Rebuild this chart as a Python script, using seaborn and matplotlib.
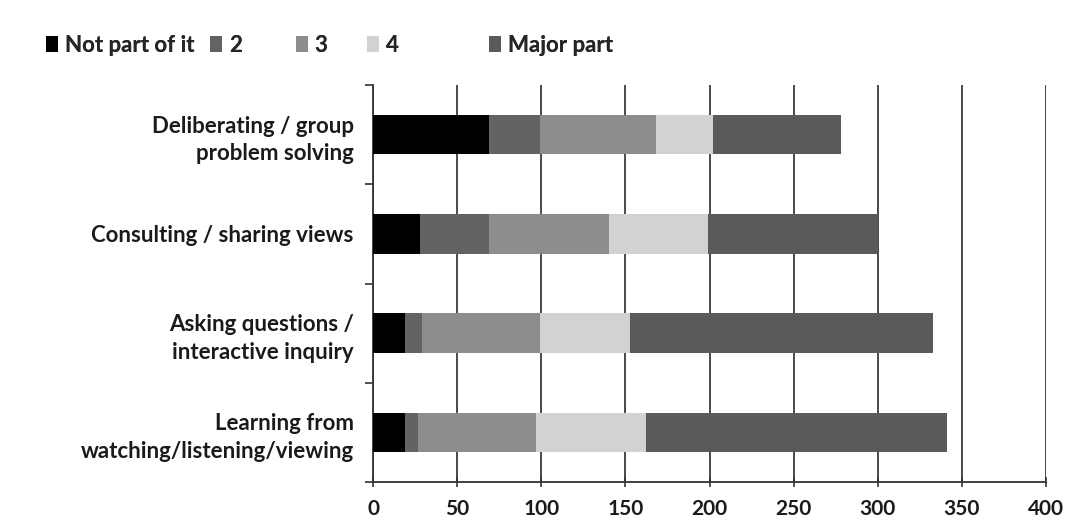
import matplotlib
matplotlib.use("Agg")
import matplotlib.pyplot as plt
import seaborn as sns
import pandas as pd
import numpy as np
from matplotlib.patches import Patch

# Survey responses: how much each activity is part of the work
activities = [
    "Deliberating / group\nproblem solving",
    "Consulting / sharing views",
    "Asking questions /\ninteractive inquiry",
    "Learning from\nwatching/listening/viewing",
]
levels = ["Not part of it", "2", "3", "4", "Major part"]
not_part = [69, 28, 19, 19]
level_2 = [30, 41, 10, 8]
level_3 = [69, 71, 70, 70]
level_4 = [34, 59, 54, 65]
major_part = [76, 101, 180, 179]
x_ticks = [0, 50, 100, 150, 200, 250, 300, 350, 400]

colors = ["#000000", "#636363", "#8d8d8d", "#d2d2d2", "#5a5a5a"]

sns.set_theme(style="white")
plt.rcParams["font.family"] = ["Lato", "DejaVu Sans"]
plt.rcParams["font.weight"] = "bold"

df = pd.DataFrame(
    {
        "activity": activities,
        levels[0]: not_part,
        levels[1]: level_2,
        levels[2]: level_3,
        levels[3]: level_4,
        levels[4]: major_part,
    }
)
cum = df[levels].cumsum(axis=1)
cum["activity"] = df["activity"]

fig = plt.figure(figsize=(10.67, 5.29), dpi=100)
ax = fig.add_axes([0.3496, 0.0888, 0.6307, 0.7505])

# Stacked bars: draw cumulative totals from the outermost segment inward
for lvl, col in reversed(list(zip(levels, colors))):
    sns.barplot(
        data=cum, x=lvl, y="activity", color=col, width=0.4,
        orient="h", ax=ax, saturation=1, edgecolor="none", zorder=3,
    )

ax.set_xlim(0, 400)
ax.set_xticks(x_ticks)
ax.set_xticklabels([str(t) for t in x_ticks])
ax.set_ylim(3.5, -0.5)
ax.set_xlabel("")
ax.set_ylabel("")

ax.xaxis.grid(True, color="#3a3a3a", linewidth=1.3, zorder=0)
ax.yaxis.grid(False)
ax.set_axisbelow(True)

for side in ["top", "right"]:
    ax.spines[side].set_visible(False)
for side in ["left", "bottom"]:
    ax.spines[side].set_color("#333333")
    ax.spines[side].set_linewidth(1.3)

# Category separators as minor ticks on the y-axis
ax.set_yticks(np.arange(-0.5, 4.0, 1.0), minor=True)
ax.tick_params(axis="y", which="major", length=0, pad=14, labelsize=16,
               labelcolor="#1a1a1a")
ax.tick_params(axis="y", which="minor", length=6, width=1.2, color="#333333",
               direction="out", left=True)
ax.tick_params(axis="x", which="major", length=7, width=1.2, color="#333333",
               direction="inout", bottom=True, pad=9, labelsize=15,
               labelcolor="#1a1a1a")
for lab in ax.get_yticklabels():
    lab.set_horizontalalignment("right")
    lab.set_multialignment("right")
    lab.set_linespacing(1.4)
    lab.set_fontweight("bold")
for lab in ax.get_xticklabels():
    lab.set_fontweight("bold")

# Legend entries laid out in fixed slots across the top
legend_x = [0.043, 0.197, 0.277, 0.344, 0.458]
for lvl, col, lx in zip(levels, colors, legend_x):
    leg = fig.legend(
        [Patch(facecolor=col, edgecolor="none")], [lvl],
        loc="center left", bbox_to_anchor=(lx, 1 - 45 / 529),
        frameon=False, handlelength=0.55, handleheight=0.7,
        handletextpad=0.3, borderpad=0, borderaxespad=0,
        prop={"weight": "bold", "size": 16},
    )
    fig.add_artist(leg)

fig.savefig("out.png", dpi=100)
